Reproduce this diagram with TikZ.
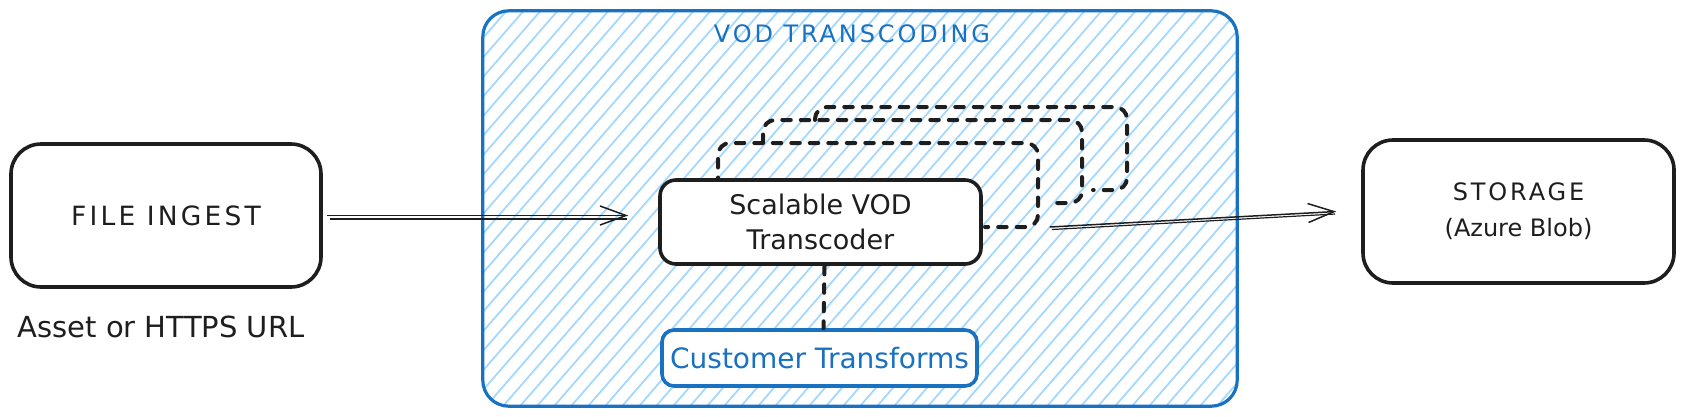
\documentclass[tikz,border=0pt]{standalone}
\usepackage{fontspec}
\setmainfont{DejaVu Sans}
\newfontfamily\capsfont[LetterSpace=12]{DejaVu Sans}
\usetikzlibrary{arrows.meta}
\definecolor{ink}{HTML}{1E1E1E}
\definecolor{exblue}{HTML}{1971C2}
\definecolor{hatchblue}{HTML}{A5D8FF}
\begin{document}
\begin{tikzpicture}[x=1pt,y=-1pt,
  txt/.style={font=\fontsize{27}{35}\selectfont, text=ink, align=center},
  box/.style={draw=ink, line width=3.6pt, rounded corners=#1, fill=white, inner sep=0pt, txt},
  box/.default=15pt,
  hatchline/.style={draw=hatchblue, line width=1.8pt},
  dashbox/.style={draw=ink, line width=4pt, rounded corners=12pt, dash pattern=on 8.5pt off 10pt, line cap=round},
  dashline/.style={draw=ink, line width=4pt, dash pattern=on 8.5pt off 10pt, line cap=round},
  arr/.style={draw=ink, line width=1.5pt, -{Straight Barb[length=26pt,width=19pt]}},
  arrtwin/.style={draw=ink, line width=1.2pt},
  titletxt/.style={font=\fontsize{24}{30}\selectfont\capsfont, text=exblue}
]
\useasboundingbox (0,0) rectangle (1683,416);

% left input
\node[box=30pt, minimum width=310pt, minimum height=143pt, font=\fontsize{26.5}{35}\selectfont\capsfont] (ingest) at (166,215.5) {FILE INGEST};
\node[txt, font=\fontsize{29}{35}\selectfont] (asset) at (161,327) {Asset or HTTPS URL};

% container with hatching
\node[draw=none, minimum width=754pt, minimum height=395pt, inner sep=0pt] (vod) at (860,208.5) {};
\begin{scope}
  \clip[rounded corners=26pt] (vod.north west) rectangle (vod.south east);
  \foreach \x in {100,117,...,1260} \draw[hatchline] (\x,420) -- (\x+365,0);
\end{scope}
\draw[exblue, line width=3.2pt, rounded corners=26pt] (vod.north west) rectangle (vod.south east);
\node[titletxt] (vodtitle) at (852,34) {VOD TRANSCODING};

% stacked dashed instances
\draw[dashbox] (718,186) -- (718,143) -- (1038,143) -- (1038,227) -- (985,227);
\draw[dashbox] (763,143) -- (763,120) -- (1082,120) -- (1082,203) -- (1048,203);
\draw[dashbox] (815,120) -- (815,107) -- (1127,107) -- (1127,190) -- (1093,190);

% main transcoder
\node[box=16pt, minimum width=321pt, minimum height=84pt] (trans) at (820.5,222) {Scalable VOD\\Transcoder};

% customer transforms
\node[box=12pt, draw=exblue, text=exblue, minimum width=315pt, minimum height=56pt, font=\fontsize{28}{35}\selectfont] (cust) at (819.5,358) {Customer Transforms};
\draw[dashline] ([xshift=4pt]trans.south) -- ([xshift=4pt]cust.north);

% storage
\node[box=30pt, minimum width=311pt, minimum height=143pt, font=\fontsize{24}{36}\selectfont] (storage) at (1518.5,211.5) {{\capsfont STORAGE}\\(Azure Blob)};

% arrows
\draw[arr] ([xshift=4pt]ingest.east) -- ([xshift=-30pt]ingest.east -| trans.west);
\draw[arrtwin] ([xshift=7pt,yshift=-3.5pt]ingest.east) -- ([xshift=-31pt,yshift=-3.5pt]ingest.east -| trans.west);
\draw[arr] ([xshift=67pt,yshift=-5pt]trans.east) -- ([xshift=-25pt]storage.west);
\draw[arrtwin] ([xshift=69pt,yshift=-7.5pt]trans.east) -- ([xshift=-26pt,yshift=-2.5pt]storage.west);
\end{tikzpicture}
\end{document}
